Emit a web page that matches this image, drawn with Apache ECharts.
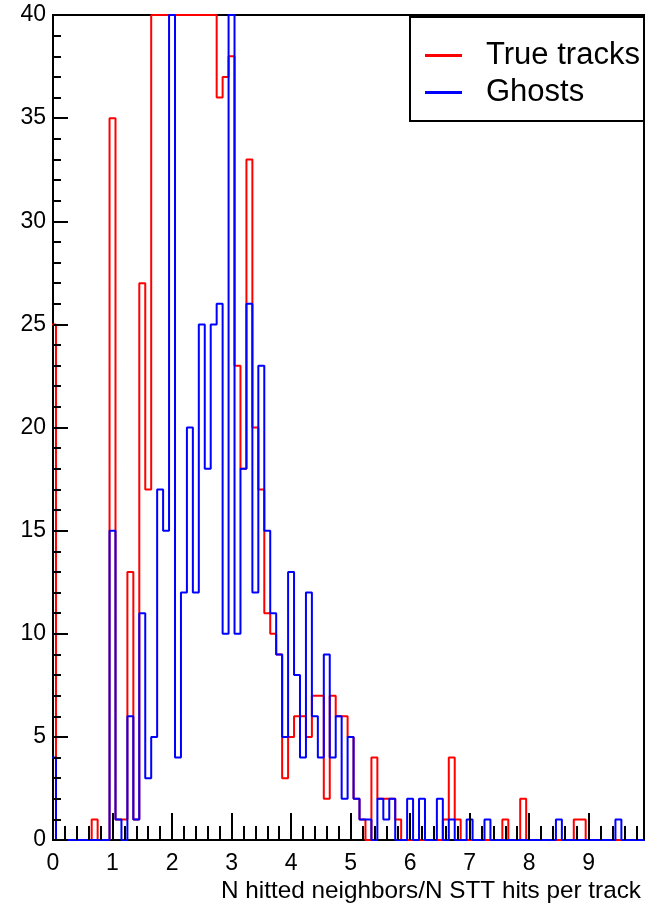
<!DOCTYPE html>
<html><head><meta charset="utf-8">
<script src="https://cdn.jsdelivr.net/npm/echarts@6/dist/echarts.min.js"></script>
<style>html,body{margin:0;padding:0;background:#fff}#c{width:648px;height:908px}</style>
</head><body><div id="c"></div>
<script>
// Histogram: bins of width 0.1 centred on k*0.1 (k = 0..100)
const binWidth = 0.1;
const trueTracks = [
  25,0,0,0,0,0,0,1,0,0,
  35,1,1,13,1,27,17,44,52,60,
  48,58,50,46,45,42,44,41,36,37,
  38,23,18,33,20,17,11,10,9,3,
  5,6,6,5,7,7,2,7,6,6,
  5,2,1,0,4,2,2,2,1,0,
  0,0,0,0,0,0,1,4,1,0,
  0,0,0,0,0,0,1,0,0,2,
  0,0,0,0,0,0,0,0,1,1,
  0,0,0,0,0,0,0,0,0,0,
  0
];
const ghosts = [
  4,0,0,0,0,0,0,0,0,0,
  15,1,0,6,1,11,3,5,17,15,
  45,4,12,20,12,25,18,25,26,10,
  48,10,18,26,12,23,15,11,9,5,
  13,8,4,12,6,4,9,4,6,2,
  5,2,1,1,0,2,1,2,0,0,
  2,0,2,0,0,2,0,1,0,0,
  1,0,0,1,0,0,0,0,0,0,
  0,0,0,0,0,1,0,0,0,0,
  0,0,0,0,0,1,0,0,0,0,
  0
];
const seriesNames = ['True tracks', 'Ghosts'];
const seriesColors = ['#ff0000', '#0000ff'];
const xTickLabels = ['0','1','2','3','4','5','6','7','8','9'];
const yTickStep = 5;
const xTitle = 'N hitted neighbors/N STT hits per track';
const X_MIN = 0, X_MAX = 9.93, Y_MIN = 0, Y_MAX = 40;

function stepPoints(vals) {
  const pts = [];
  for (let k = 0; k < vals.length; k++) {
    pts.push([k * binWidth - binWidth / 2, Math.min(vals[k], Y_MAX)]);
  }
  pts.push([vals.length * binWidth - binWidth / 2, 0]);
  return pts;
}

const FONT = "'Liberation Sans', Arial, Helvetica, sans-serif";
const tickStyle = {color: '#000', width: 2};
const chart = echarts.init(document.getElementById('c'), null, {renderer: 'canvas'});
chart.setOption({
  animation: false,
  backgroundColor: '#fff',
  textStyle: {fontFamily: FONT},
  grid: {left: 53, top: 15, width: 591, height: 825, show: true,
         borderColor: '#000', borderWidth: 2, backgroundColor: 'transparent'},
  xAxis: [{
    type: 'value', min: X_MIN, max: X_MAX, interval: 1, z: 5, position: 'bottom',
    axisLine: {show: false},
    axisTick: {show: true, inside: true, length: 27, lineStyle: tickStyle},
    splitLine: {show: false},
    axisLabel: {fontSize: 23, color: '#000', fontFamily: FONT, margin: 12,
      formatter: v => (xTickLabels[v] !== undefined ? xTickLabels[v] : '')}
  }, {
    type: 'value', min: X_MIN, max: X_MAX, interval: 0.2, z: 5, position: 'bottom', offset: 0,
    axisLine: {show: false},
    axisTick: {show: true, inside: true, length: 14, lineStyle: tickStyle},
    splitLine: {show: false},
    axisLabel: {show: false}
  }],
  yAxis: {
    type: 'value', min: Y_MIN, max: Y_MAX, interval: yTickStep, z: 5,
    axisLine: {show: false},
    axisTick: {show: true, inside: true, length: 15, lineStyle: tickStyle},
    minorTick: {show: true, splitNumber: 5, length: 8, lineStyle: tickStyle},
    splitLine: {show: false}, minorSplitLine: {show: false},
    axisLabel: {fontSize: 23, color: '#000', fontFamily: FONT, margin: 7}
  },
  title: {text: xTitle, right: 2, top: 874,
    textStyle: {fontSize: 24.3, fontWeight: 'normal', color: '#000', fontFamily: FONT}},
  legend: {
    data: seriesNames, orient: 'vertical', left: 425, top: 37, padding: 0, itemGap: 0,
    icon: 'rect', itemWidth: 37, itemHeight: 3, z: 200,
    textStyle: {fontSize: 31, lineHeight: 31, color: '#000', fontFamily: FONT, padding: [0, 0, 6, 19]}
  },
  graphic: {elements: [{type: 'rect', z: 100,
    shape: {x: 410, y: 17, width: 234, height: 104},
    style: {fill: '#fff', stroke: '#000', lineWidth: 2}}]},
  series: [trueTracks, ghosts].map((vals, i) => ({
    name: seriesNames[i], type: 'line', step: 'end', showSymbol: false, symbol: 'none',
    clip: true, z: 2 + i, color: seriesColors[i], xAxisIndex: 0,
    lineStyle: {color: seriesColors[i], width: 2},
    data: stepPoints(vals)
  }))
});
</script></body></html>
